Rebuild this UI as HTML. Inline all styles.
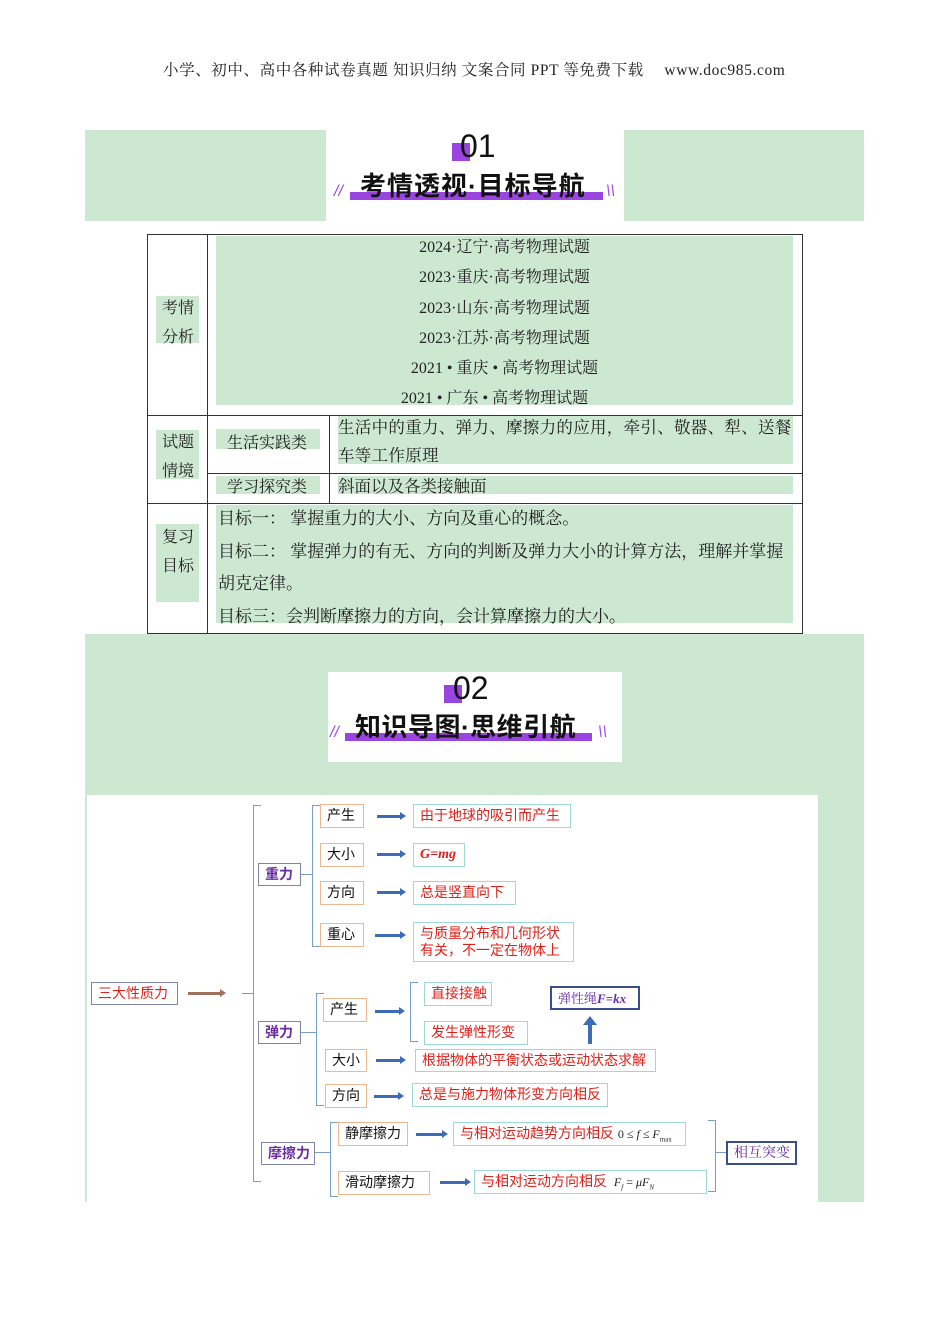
<!DOCTYPE html>
<html><head><meta charset="utf-8"><style>
body{margin:0;width:950px;height:1344px;background:#fff;position:relative;overflow:hidden;font-family:"Liberation Serif","Noto Serif CJK SC",serif;}
.a{position:absolute;}
.g{position:absolute;background:#cde8d1;}
.s{font-family:"Liberation Sans","Noto Sans CJK SC",sans-serif;}
.t{position:absolute;font-size:16px;color:#222;white-space:nowrap;}
.ln{position:absolute;background:#333;}
.bx{position:absolute;box-sizing:border-box;font-family:"Liberation Sans","Noto Sans CJK SC",sans-serif;font-size:14px;white-space:nowrap;padding:0 6px;line-height:21px;background:#fff;}
.o{border:1.5px solid #f0b890;color:#111;}
.c{border:1.5px solid #9fd8d8;color:#e0201a;}
.p{border:1.5px solid #7f85a8;color:#6a2ca0;font-weight:bold;}
.ar{position:absolute;height:3px;background:#3d6bb8;}
.ar:after{content:"";position:absolute;right:-4px;top:-3px;border-left:6px solid #3d6bb8;border-top:4.5px solid transparent;border-bottom:4.5px solid transparent;}
.br{position:absolute;border:1px solid #7a9cc8;border-right:none;width:7px;}
.brr{position:absolute;border:1px solid #7a9cc8;border-left:none;width:7px;}
.tk{position:absolute;height:1px;background:#7a9cc8;}
</style></head><body>
<div class="t" style="left:163px;top:58px;font-size:15.5px;letter-spacing:0.6px">小学、初中、高中各种试卷真题 知识归纳 文案合同 PPT 等免费下载　 www.doc985.com</div>

<div class="g" style="left:85px;top:130px;width:241px;height:91px"></div>
<div class="g" style="left:624px;top:130px;width:240px;height:91px"></div>
<div class="a" style="left:452px;top:143px;width:18px;height:18px;background:#9b45e0"></div>
<div class="a s" style="left:460px;top:127px;font-size:32px;color:#111;line-height:38px">01</div>
<div class="a" style="left:350px;top:192px;width:253px;height:8px;background:#9b45e0"></div>
<div class="a s" style="left:360px;top:170px;font-size:26px;font-weight:bold;color:#111;line-height:32px;letter-spacing:1px">考情透视·目标导航</div>
<div class="a s" style="left:334px;top:183px;color:#9b45e0;font-size:16px;font-style:italic">//</div>
<div class="a s" style="left:606px;top:183px;color:#9b45e0;font-size:16px;font-style:italic">\\</div>

<!-- table -->
<div class="a" style="left:147px;top:234px;width:654px;height:398px;border:1px solid #333"></div>
<div class="g" style="left:216px;top:236px;width:577px;height:169px"></div>
<div class="g" style="left:156px;top:296px;width:43px;height:47px"></div>
<div class="g" style="left:156px;top:430px;width:43px;height:49px"></div>
<div class="g" style="left:156px;top:524px;width:43px;height:78px"></div>
<div class="g" style="left:216px;top:429px;width:104px;height:20px"></div>
<div class="g" style="left:216px;top:476px;width:104px;height:18px"></div>
<div class="g" style="left:338px;top:416px;width:455px;height:48px"></div>
<div class="g" style="left:338px;top:476px;width:455px;height:18px"></div>
<div class="g" style="left:216px;top:505px;width:577px;height:118px"></div>
<div class="ln" style="left:207px;top:234px;width:1px;height:399px"></div>
<div class="ln" style="left:147px;top:415px;width:655px;height:1px"></div>
<div class="ln" style="left:147px;top:503px;width:655px;height:1px"></div>
<div class="ln" style="left:207px;top:473px;width:595px;height:1px"></div>
<div class="ln" style="left:329px;top:415px;width:1px;height:88px"></div>
<div class="t" style="left:162px;top:294px;line-height:29px">考情<br>分析</div>
<div class="t" style="left:162px;top:428px;line-height:29px">试题<br>情境</div>
<div class="t" style="left:162px;top:523px;line-height:29px">复习<br>目标</div>
<div class="t" style="left:207px;width:595px;top:233px;text-align:center;line-height:30.3px">2024·辽宁·高考物理试题<br>2023·重庆·高考物理试题<br>2023·山东·高考物理试题<br>2023·江苏·高考物理试题<br>2021 • 重庆 • 高考物理试题<br>2021 • 广东 • 高考物理试题&nbsp;&nbsp;&nbsp;&nbsp;&nbsp;</div>
<div class="t" style="left:227px;top:430px">生活实践类</div>
<div class="t" style="left:227px;top:474px">学习探究类</div>
<div class="t" style="left:338px;top:414px;line-height:28px;font-size:16.5px;letter-spacing:0.3px">生活中的重力、弹力、摩擦力的应用，牵引、敬器、犁、送餐<br>车等工作原理</div>
<div class="t" style="left:338px;top:473px;font-size:16.5px">斜面以及各类接触面</div>
<div class="t" style="left:218px;top:503px;line-height:32.5px;font-size:17px">目标一： 掌握重力的大小、方向及重心的概念。<br>目标二： 掌握弹力的有无、方向的判断及弹力大小的计算方法，理解并掌握<br>胡克定律。<br>目标三：会判断摩擦力的方向，会计算摩擦力的大小。</div>

<!-- section 2 -->
<div class="g" style="left:85px;top:634px;width:779px;height:568px"></div>
<div class="a" style="left:87px;top:795px;width:731px;height:407px;background:#fff"></div>
<div class="a" style="left:328px;top:672px;width:294px;height:90px;background:#fff"></div>
<div class="a" style="left:444px;top:685px;width:18px;height:18px;background:#9b45e0"></div>
<div class="a s" style="left:453px;top:669px;font-size:32px;color:#111;line-height:38px">02</div>
<div class="a" style="left:345px;top:733px;width:247px;height:8px;background:#9b45e0"></div>
<div class="a s" style="left:355px;top:711px;font-size:26px;font-weight:bold;color:#111;line-height:32px;letter-spacing:0.5px">知识导图·思维引航</div>
<div class="a s" style="left:330px;top:724px;color:#9b45e0;font-size:16px;font-style:italic">//</div>
<div class="a s" style="left:598px;top:724px;color:#9b45e0;font-size:16px;font-style:italic">\\</div>

<!-- mind map -->
<div class="bx" style="left:91px;top:982px;width:87px;height:23px;border:1.5px solid #7f85a8;color:#e0201a">三大性质力</div>
<div class="a" style="left:188px;top:992px;width:34px;height:3px;background:#a07060"></div>
<div class="a" style="left:220px;top:989px;border-left:6px solid #a07060;border-top:4.5px solid transparent;border-bottom:4.5px solid transparent"></div>
<div class="br" style="left:253px;top:805px;height:375px"></div><div class="tk" style="left:242px;top:993px;width:11px"></div>

<div class="bx p" style="left:258px;top:863px;width:43px;height:23px">重力</div>
<div class="tk" style="left:301px;top:874px;width:11px"></div>
<div class="br" style="left:312px;top:805px;height:140px"></div>
<div class="bx o" style="left:320px;top:804px;width:44px;height:24px">产生</div>
<div class="ar" style="left:377px;top:815px;width:25px"></div>
<div class="bx c" style="left:413px;top:804px;width:158px;height:24px">由于地球的吸引而产生</div>
<div class="bx o" style="left:320px;top:843px;width:44px;height:24px">大小</div>
<div class="ar" style="left:377px;top:853px;width:25px"></div>
<div class="bx c" style="left:413px;top:843px;width:52px;height:24px;font-family:'Liberation Serif',serif;font-style:italic;font-weight:bold">G=mg</div>
<div class="bx o" style="left:320px;top:881px;width:44px;height:24px">方向</div>
<div class="ar" style="left:377px;top:891px;width:25px"></div>
<div class="bx c" style="left:413px;top:881px;width:103px;height:24px">总是竖直向下</div>
<div class="bx o" style="left:320px;top:923px;width:44px;height:24px">重心</div>
<div class="ar" style="left:375px;top:934px;width:27px"></div>
<div class="bx c" style="left:413px;top:922px;width:161px;height:40px;line-height:17px;padding-top:2px">与质量分布和几何形状<br>有关，不一定在物体上</div>

<div class="bx p" style="left:258px;top:1021px;width:43px;height:23px">弹力</div>
<div class="tk" style="left:301px;top:1032px;width:15px"></div>
<div class="br" style="left:316px;top:993px;height:111px"></div>
<div class="bx o" style="left:323px;top:998px;width:44px;height:24px">产生</div>
<div class="ar" style="left:375px;top:1010px;width:26px"></div>
<div class="br" style="left:410px;top:982px;height:58px"></div>
<div class="bx c" style="left:424px;top:982px;width:68px;height:24px">直接接触</div>
<div class="bx c" style="left:424px;top:1021px;width:104px;height:24px">发生弹性形变</div>
<div class="bx" style="left:550px;top:986px;width:90px;height:24px;border:2px solid #3a4e8a;color:#6a2ca0;font-size:13px;font-family:'Liberation Serif','Noto Serif CJK SC',serif">弹性绳<i><b>F=kx</b></i></div>
<div class="a" style="left:588px;top:1024px;width:4px;height:20px;background:#3d6bb8"></div>
<div class="a" style="left:583px;top:1016px;border-bottom:9px solid #3d6bb8;border-left:7px solid transparent;border-right:7px solid transparent"></div>
<div class="bx o" style="left:325px;top:1049px;width:42px;height:23px">大小</div>
<div class="ar" style="left:376px;top:1059px;width:26px"></div>
<div class="bx c" style="left:415px;top:1049px;width:241px;height:23px">根据物体的平衡状态或运动状态求解</div>
<div class="bx o" style="left:325px;top:1084px;width:42px;height:24px">方向</div>
<div class="ar" style="left:374px;top:1095px;width:26px"></div>
<div class="bx c" style="left:412px;top:1083px;width:196px;height:24px">总是与施力物体形变方向相反</div>

<div class="bx p" style="left:261px;top:1142px;width:54px;height:23px">摩擦力</div>
<div class="tk" style="left:315px;top:1152px;width:15px"></div>
<div class="br" style="left:330px;top:1122px;height:73px"></div>
<div class="bx o" style="left:338px;top:1122px;width:70px;height:24px">静摩擦力</div>
<div class="ar" style="left:416px;top:1133px;width:28px"></div>
<div class="bx c" style="left:453px;top:1122px;width:233px;height:24px">与相对运动趋势方向相反 <span style="font-family:'Liberation Serif',serif;color:#222;font-size:12px">0 ≤ <i>f</i> ≤ <i>F</i><sub style="font-size:7px">max</sub></span></div>
<div class="bx o" style="left:338px;top:1171px;width:92px;height:24px">滑动摩擦力</div>
<div class="ar" style="left:440px;top:1181px;width:27px"></div>
<div class="bx c" style="left:474px;top:1170px;width:233px;height:24px">与相对运动方向相反 <span style="font-family:'Liberation Serif',serif;color:#222;font-size:12px">&nbsp;<i>F</i><sub style="font-size:7px"><i>f</i></sub> = <i>μF</i><sub style="font-size:7px"><i>N</i></sub></span></div>
<div class="brr" style="left:708px;top:1120px;height:70px"></div>
<div class="tk" style="left:716px;top:1152px;width:10px"></div>
<div class="bx" style="left:726px;top:1141px;width:71px;height:24px;border:2px solid #3a4e8a;color:#6a2ca0;font-family:'Liberation Serif','Noto Serif CJK SC',serif">相互突变</div>
</body></html>
